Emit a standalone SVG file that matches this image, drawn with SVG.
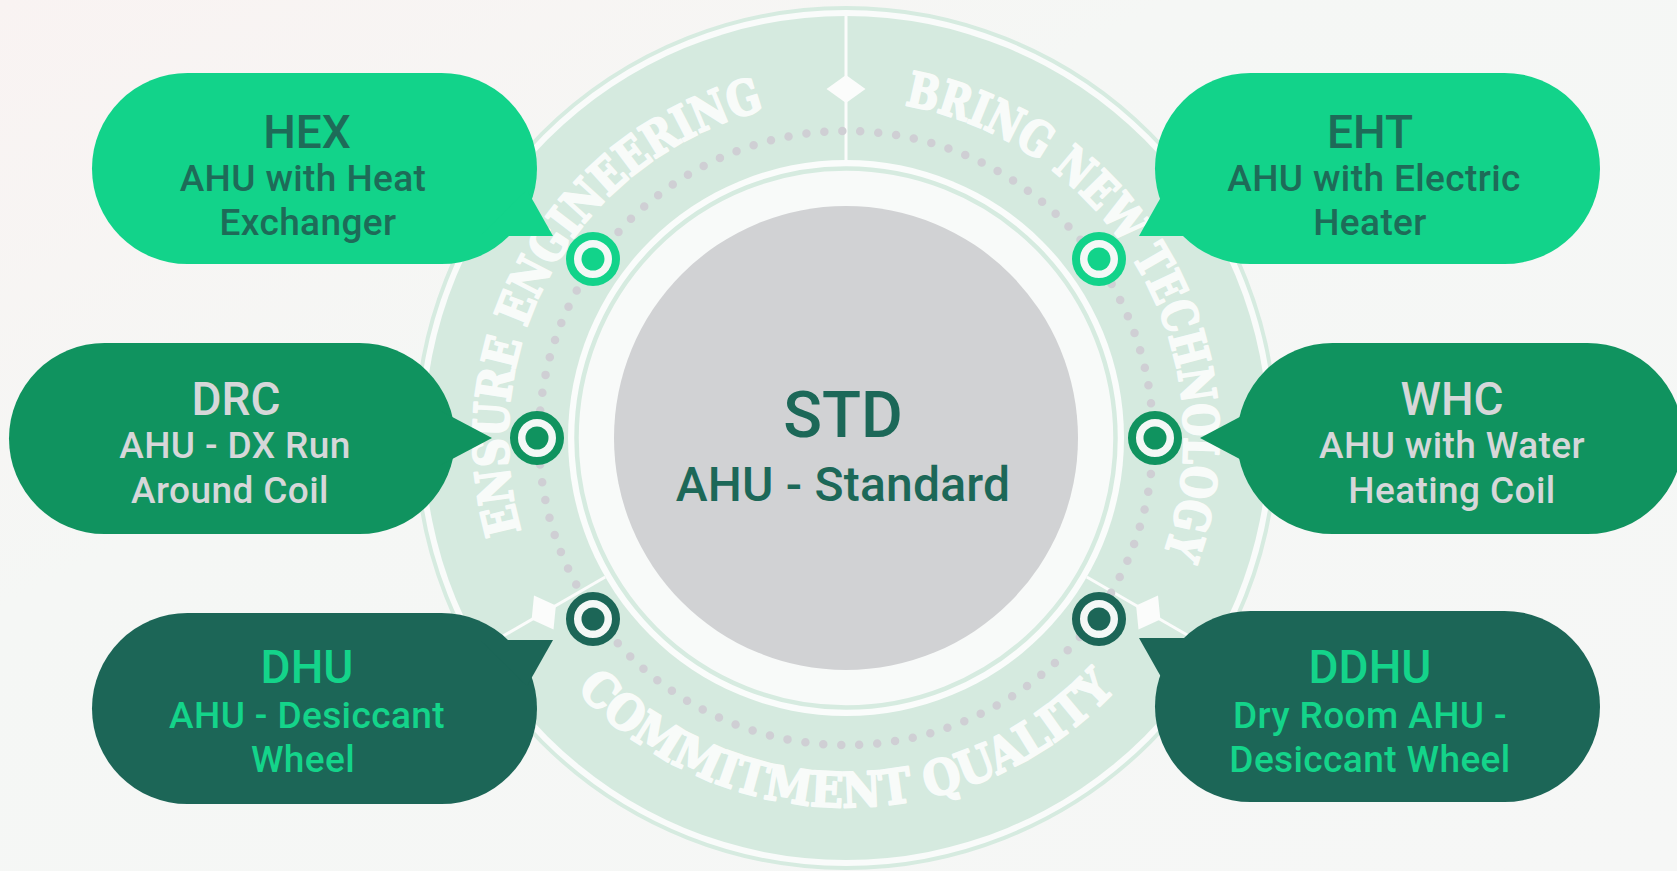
<svg xmlns="http://www.w3.org/2000/svg" xmlns:xlink="http://www.w3.org/1999/xlink" width="1677" height="871" viewBox="0 0 1677 871">
<defs>
  <linearGradient id="bg" x1="0" y1="0" x2="1" y2="1">
    <stop offset="0" stop-color="#f9f3f2"/>
    <stop offset="0.35" stop-color="#f5f7f5"/>
    <stop offset="1" stop-color="#f6f7f6"/>
  </linearGradient>
  <path id="arcA" d="M553.3,607 A338,338 0 0 1 846,100"/>
  <path id="arcB" d="M846,100 A338,338 0 0 1 1138.7,607"/>
  <path id="arcC" d="M526.4,622.5 A369,369 0 0 0 1165.6,622.5"/>
  <g id="divider">
    <line x1="846" y1="16" x2="846" y2="160" stroke="#fbfcfb" stroke-width="3"/>
    <polygon points="826.5,89 846,75 865.5,89 846,103" fill="#fbfcfb"/>
  </g>
</defs>
<style>
  .title{font-family:Roboto,'Liberation Sans',sans-serif;font-weight:500;font-size:46px;text-anchor:middle}
  .sub{font-family:Roboto,'Liberation Sans',sans-serif;font-weight:500;font-size:37px;text-anchor:middle;letter-spacing:0.4px}
  .ringtext{font-family:'DejaVu Serif','Liberation Serif',serif;font-weight:bold;font-size:48px;fill:#fbfdfc;stroke:#fbfdfc;stroke-width:2.2;stroke-linejoin:round;opacity:0.93}
  .bright{fill:#12d38a}
  .medium{fill:#10935f}
  .dark{fill:#1c6657}
  .tx-bright{fill:#1e6b58}
  .tx-medium{fill:#d6d7d9}
  .tx-dark{fill:#14d48a}
  .tgt-ring{fill:#f4f8f6;stroke-width:8}
</style>

<rect x="0" y="0" width="1677" height="871" fill="url(#bg)"/>

<g id="ring">
  <circle cx="846" cy="438" r="430" fill="#f9fbfa" stroke="#d6ebe0" stroke-width="4"/>
  <circle cx="846" cy="438" r="422" fill="#d5eadf"/>
  <circle cx="846" cy="438" r="278" fill="#fafcfb"/>
  <circle cx="846" cy="438" r="269.5" fill="#f8faf9" stroke="#d6ebe0" stroke-width="4.5"/>
  <use xlink:href="#divider"/>
  <use xlink:href="#divider" transform="rotate(120 846 438)"/>
  <use xlink:href="#divider" transform="rotate(-120 846 438)"/>
  <circle cx="846" cy="438" r="307" fill="none" stroke="#cfcfd4" stroke-width="8.5" stroke-linecap="round" stroke-dasharray="0 18.03"/>
  <text class="ringtext"><textPath xlink:href="#arcA" startOffset="50%" text-anchor="middle" textLength="543" lengthAdjust="spacingAndGlyphs">ENSURE ENGINEERING</textPath></text>
  <text class="ringtext"><textPath xlink:href="#arcB" startOffset="50%" text-anchor="middle" textLength="590" lengthAdjust="spacingAndGlyphs">BRING NEW TECHNOLOGY</textPath></text>
  <text class="ringtext"><textPath xlink:href="#arcC" startOffset="50%" text-anchor="middle" textLength="605" lengthAdjust="spacingAndGlyphs">COMMITMENT QUALITY</textPath></text>
</g>

<g id="node-std">
  <circle cx="846" cy="438" r="232" fill="#d1d2d4"/>
  <text class="title" x="843" y="437" style="font-size:64px" fill="#1c6858">STD</text>
  <text class="sub" x="843" y="501" style="font-size:48px;letter-spacing:0.2px" fill="#1c6858">AHU - Standard</text>
</g>

<g id="connectors">
  <circle class="tgt-ring" cx="593" cy="259" r="23" stroke="#12d38a"/><circle cx="593" cy="259" r="11.5" fill="#12d38a"/>
  <circle class="tgt-ring" cx="1099" cy="259" r="23" stroke="#12d38a"/><circle cx="1099" cy="259" r="11.5" fill="#12d38a"/>
  <circle class="tgt-ring" cx="537" cy="438" r="23" stroke="#10935f"/><circle cx="537" cy="438" r="11.5" fill="#10935f"/>
  <circle class="tgt-ring" cx="1155" cy="438" r="23" stroke="#10935f"/><circle cx="1155" cy="438" r="11.5" fill="#10935f"/>
  <circle class="tgt-ring" cx="593" cy="619" r="23" stroke="#1c6657"/><circle cx="593" cy="619" r="11.5" fill="#1c6657"/>
  <circle class="tgt-ring" cx="1099" cy="619" r="23" stroke="#1c6657"/><circle cx="1099" cy="619" r="11.5" fill="#1c6657"/>
</g>

<g id="node-hex">
  <rect class="bright" x="92" y="73" width="445" height="191" rx="95.5"/>
  <polygon class="bright" points="527,190 553,236 480,236"/>
  <text class="title tx-bright" x="307" y="148">HEX</text>
  <text class="sub tx-bright" x="303" y="191">AHU with Heat</text>
  <text class="sub tx-bright" x="308" y="235">Exchanger</text>
</g>

<g id="node-eht">
  <rect class="bright" x="1155" y="73" width="445" height="191" rx="95.5"/>
  <polygon class="bright" points="1165,190 1139,236 1212,236"/>
  <text class="title tx-bright" x="1370" y="148">EHT</text>
  <text class="sub tx-bright" x="1374" y="191">AHU with Electric</text>
  <text class="sub tx-bright" x="1370" y="235">Heater</text>
</g>

<g id="node-drc">
  <rect class="medium" x="9" y="343" width="446" height="191" rx="95.5"/>
  <polygon class="medium" points="440,410.6 492,438 440,465.4"/>
  <text class="title tx-medium" x="236" y="415">DRC</text>
  <text class="sub tx-medium" x="235" y="458">AHU - DX Run</text>
  <text class="sub tx-medium" x="230" y="503">Around Coil</text>
</g>

<g id="node-whc">
  <rect class="medium" x="1237" y="343" width="446" height="191" rx="95.5"/>
  <polygon class="medium" points="1252,410.6 1200,438 1252,465.4"/>
  <text class="title tx-medium" x="1452" y="415">WHC</text>
  <text class="sub tx-medium" x="1452" y="458">AHU with Water</text>
  <text class="sub tx-medium" x="1452" y="503">Heating Coil</text>
</g>

<g id="node-dhu">
  <rect class="dark" x="92" y="613" width="445" height="191" rx="95.5"/>
  <polygon class="dark" points="527,686 553,640 480,640"/>
  <text class="title tx-dark" x="307" y="683">DHU</text>
  <text class="sub tx-dark" x="307" y="728">AHU - Desiccant</text>
  <text class="sub tx-dark" x="303" y="772">Wheel</text>
</g>

<g id="node-ddhu">
  <rect class="dark" x="1155" y="611" width="445" height="191" rx="95.5"/>
  <polygon class="dark" points="1165,684 1139,638 1212,638"/>
  <text class="title tx-dark" x="1370" y="683">DDHU</text>
  <text class="sub tx-dark" x="1370" y="728">Dry Room AHU -</text>
  <text class="sub tx-dark" x="1370" y="772">Desiccant Wheel</text>
</g>
</svg>
